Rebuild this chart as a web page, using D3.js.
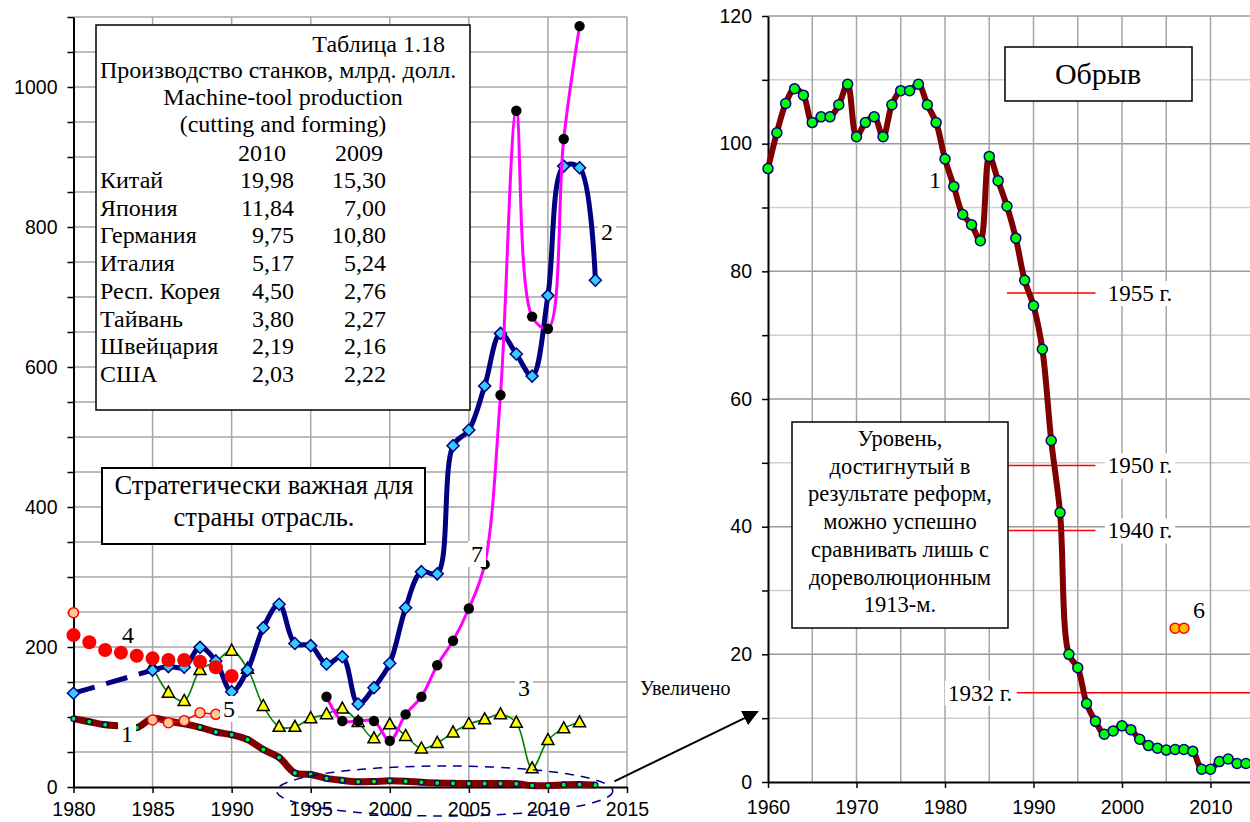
<!DOCTYPE html>
<html>
<head>
<meta charset="utf-8">
<script src="https://cdn.jsdelivr.net/npm/d3@7"></script>
<style>
  body { margin: 0; background: #fff; }
  svg { display: block; }
</style>
</head>
<body>
<div id="chart"></div>
<script>
// ---------- data ----------
// series 1 (index, used in both panels)
var s1Years = d3.range(1960, 2015);
var s1Values = [96.1, 101.7, 106.3, 108.6, 107.6, 103.3, 104.2, 104.2, 106.1, 109.3,
                101.1, 103.3, 104.2, 101.1, 106.1, 108.3, 108.3, 109.3, 106.1, 103.3,
                97.6, 93.3, 88.9, 87.3, 84.8, 98.0, 94.2, 90.2, 85.2, 78.6,
                74.6, 67.8, 53.5, 42.2, 20.0, 17.9, 12.3, 9.5, 7.5, 8.0,
                8.8, 8.2, 6.7, 5.7, 5.3, 5.0, 5.1, 5.1, 4.8, 2.0,
                2.0, 3.2, 3.6, 2.9, 2.9];
// series 2
var s2Years = [1980].concat(d3.range(1985, 2014));
var s2Values = [134, 167, 172, 171, 199.5, 180, 136, 167, 227.6, 261, 205, 202, 175.7, 186,
                118.6, 141.9, 176.7, 256, 307.6, 304.5, 487.6, 510, 573, 648, 618.6, 587,
                702, 887, 884.7, 724];
// series 3
var s3Years = d3.range(1985, 2013);
var s3Values = [172, 134.8, 122.9, 167, 179, 194.8, 169, 115.7, 86, 86, 98.3, 104, 112, 93,
                69.5, 89.5, 72.9, 55, 63, 78, 90, 96.7, 103.8, 91.9, 26.7, 67, 83.8, 92.4];
// series 4
var s4Years = d3.range(1980, 1991);
var s4Values = [217, 206.7, 195.7, 191.9, 187.6, 183.8, 181.4, 181.4, 179, 171, 158.6];
// series 5
var s5Years = [1980, 1985, 1986, 1987, 1988, 1989];
var s5Values = [249, 95.7, 91.9, 94.8, 106, 103.8];
// series 7
var s7Years = d3.range(1996, 2013);
var s7Values = [129, 94.3, 94.3, 94.3, 66, 103.8, 129, 174, 209, 255, 318, 560, 966, 672,
                654.7, 925.7, 1087];
// series 6 (right panel)
var s6Years = [2006, 2007];
var s6Values = [24.1, 24.1];

// reference levels (right panel)
var levelLabels = ["1955 г.", "1950 г.", "1940 г.", "1932 г."];
var levelValues = [76.6, 49.6, 39.4, 14.0];

// table 1.18
var tableCountries = ["Китай", "Япония", "Германия", "Италия", "Респ. Корея", "Тайвань", "Швейцария", "США"];
var table2010 = ["19,98", "11,84", "9,75", "5,17", "4,50", "3,80", "2,19", "2,03"];
var table2009 = ["15,30", "7,00", "10,80", "5,24", "2,76", "2,27", "2,16", "2,22"];

// ticks
var leftXTicks = [1980, 1985, 1990, 1995, 2000, 2005, 2010, 2015];
var leftYTicks = [0, 200, 400, 600, 800, 1000];
var rightXTicks = [1960, 1970, 1980, 1990, 2000, 2010];
var rightYTicks = [0, 20, 40, 60, 80, 100, 120];

// ---------- setup ----------
var serif = "'Liberation Serif', 'Times New Roman', serif";
var sans = "'Liberation Sans', Arial, sans-serif";

var svg = d3.select("#chart")
  .append("svg")
    .attr("width", 1250)
    .attr("height", 822);

svg.append("defs").append("marker")
    .attr("id", "arrowhead")
    .attr("viewBox", "0 0 10 10")
    .attr("refX", 9)
    .attr("refY", 5)
    .attr("markerWidth", 8)
    .attr("markerHeight", 8)
    .attr("markerUnits", "strokeWidth")
    .attr("orient", "auto")
  .append("path")
    .attr("d", "M 0 0 L 10 5 L 0 10 z")
    .attr("fill", "#000");

var smooth = d3.curveCatmullRom.alpha(0.5);
var diamond = "M0,-6L6,0L0,6L-6,0Z";
var triangle = "M0,-6.5L6,4.5L-6,4.5Z";

function pairs(xs, ys) {
  return xs.map(function(d, i) { return [d, ys[i]]; });
}

// text with optional white background, anchor set before measuring
function label(g, x, y, txt, size, bg, anchor) {
  var t = g.append("text")
    .attr("x", x).attr("y", y)
    .attr("font-family", serif)
    .attr("font-size", size)
    .attr("text-anchor", anchor || "start")
    .text(txt);
  if (bg) {
    var b = t.node().getBBox();
    g.insert("rect", function() { return t.node(); })
      .attr("x", b.x - 3).attr("y", b.y)
      .attr("width", b.width + 6).attr("height", b.height)
      .attr("fill", "#fff");
  }
  return t;
}

// ================= LEFT PANEL =================
var xL = d3.scaleLinear().domain([1980, 2015]).range([73.5, 627]);
var yL = d3.scaleLinear().domain([0, 1100]).range([787, 17]);

var left = svg.append("g");

// grid
left.selectAll(".hgrid")
  .data(d3.range(50, 1101, 50))
  .enter().append("line")
    .attr("x1", xL(1980)).attr("x2", xL(2015))
    .attr("y1", function(d) { return yL(d); })
    .attr("y2", function(d) { return yL(d); })
    .attr("stroke", "#a6a6a6").attr("stroke-width", 1.5);
left.selectAll(".vgrid")
  .data(d3.range(1985, 2016, 5))
  .enter().append("line")
    .attr("x1", function(d) { return xL(d); })
    .attr("x2", function(d) { return xL(d); })
    .attr("y1", yL(0)).attr("y2", yL(1100))
    .attr("stroke", "#a6a6a6").attr("stroke-width", 1.5);

// axes
var axL = left.append("g")
  .attr("transform", "translate(" + xL(1980) + ",0)")
  .call(d3.axisLeft(yL).tickValues(d3.range(0, 1101, 50))
    .tickFormat(function(d) { return leftYTicks.indexOf(d) >= 0 ? d : ""; })
    .tickSize(6).tickSizeOuter(0).tickPadding(10));
var axB = left.append("g")
  .attr("transform", "translate(0," + yL(0) + ")")
  .call(d3.axisBottom(xL).tickValues(leftXTicks).tickFormat(d3.format("d"))
    .tickSize(6).tickSizeOuter(0).tickPadding(9));
[axL, axB].forEach(function(a) {
  a.select(".domain").attr("stroke", "#000").attr("stroke-width", 2);
  a.selectAll(".tick line").attr("stroke", "#000").attr("stroke-width", 1.5);
  a.selectAll("text").attr("font-family", sans).attr("font-size", 19.5).attr("fill", "#000");
});

// series 3 (green / yellow triangles)
left.append("path")
  .datum(pairs(s3Years, s3Values))
  .attr("fill", "none").attr("stroke", "#008000").attr("stroke-width", 1.6)
  .attr("d", d3.line().curve(smooth).x(function(d) { return xL(d[0]); }).y(function(d) { return yL(d[1]); }));
left.selectAll(".tri")
  .data(pairs(s3Years, s3Values))
  .enter().append("path")
    .attr("d", triangle)
    .attr("transform", function(d) { return "translate(" + xL(d[0]) + "," + yL(d[1]) + ")"; })
    .attr("fill", "#ffff00").attr("stroke", "#000").attr("stroke-width", 1.5);

// series 1 (left part)
var s1Left = pairs(s1Years, s1Values).filter(function(d) { return d[0] >= 1980 && d[0] <= 2013; });
left.append("path")
  .datum(s1Left)
  .attr("fill", "none").attr("stroke", "#800000").attr("stroke-width", 7)
  .attr("d", d3.line().curve(smooth).x(function(d) { return xL(d[0]); }).y(function(d) { return yL(d[1]); }));
left.selectAll(".s1dot")
  .data(s1Left)
  .enter().append("circle")
    .attr("cx", function(d) { return xL(d[0]); })
    .attr("cy", function(d) { return yL(d[1]); })
    .attr("r", 2.6)
    .attr("fill", "#00ff00").attr("stroke", "#000080").attr("stroke-width", 1.2);

// series 2 (navy / cyan diamonds), gap 1980-1985 dashed
var s2 = pairs(s2Years, s2Values);
left.append("path")
  .datum(s2.slice(0, 2))
  .attr("fill", "none").attr("stroke", "#000080").attr("stroke-width", 5)
  .attr("stroke-dasharray", "22,12")
  .attr("d", d3.line().x(function(d) { return xL(d[0]); }).y(function(d) { return yL(d[1]); }));
left.append("path")
  .datum(s2.slice(1))
  .attr("fill", "none").attr("stroke", "#000080").attr("stroke-width", 5)
  .attr("d", d3.line().curve(smooth).x(function(d) { return xL(d[0]); }).y(function(d) { return yL(d[1]); }));
left.selectAll(".dia")
  .data(s2)
  .enter().append("path")
    .attr("d", diamond)
    .attr("transform", function(d) { return "translate(" + xL(d[0]) + "," + yL(d[1]) + ")"; })
    .attr("fill", "#33ccff").attr("stroke", "#000080").attr("stroke-width", 1.5);

// series 7 (magenta / black dots)
left.append("path")
  .datum(pairs(s7Years, s7Values))
  .attr("fill", "none").attr("stroke", "#ff00ff").attr("stroke-width", 3)
  .attr("d", d3.line().curve(smooth).x(function(d) { return xL(d[0]); }).y(function(d) { return yL(d[1]); }));
left.selectAll(".s7dot")
  .data(pairs(s7Years, s7Values))
  .enter().append("circle")
    .attr("cx", function(d) { return xL(d[0]); })
    .attr("cy", function(d) { return yL(d[1]); })
    .attr("r", 5.2)
    .attr("fill", "#000");

// series 4 (red big dots)
left.selectAll(".s4dot")
  .data(pairs(s4Years, s4Values))
  .enter().append("circle")
    .attr("cx", function(d) { return xL(d[0]); })
    .attr("cy", function(d) { return yL(d[1]); })
    .attr("r", 7)
    .attr("fill", "#ff0000");

// series 5 (peach dots)
var s5 = pairs(s5Years, s5Values);
left.append("path")
  .datum(s5.slice(1))
  .attr("fill", "none").attr("stroke", "#ff0000").attr("stroke-width", 1.5)
  .attr("d", d3.line().x(function(d) { return xL(d[0]); }).y(function(d) { return yL(d[1]); }));
left.selectAll(".s5dot")
  .data(s5)
  .enter().append("circle")
    .attr("cx", function(d) { return xL(d[0]); })
    .attr("cy", function(d) { return yL(d[1]); })
    .attr("r", 5)
    .attr("fill", "#ffcc99").attr("stroke", "#ff0000").attr("stroke-width", 1.5);

// dashed ellipse around the tail of series 1
left.append("ellipse")
  .attr("cx", (xL(1992.85) + xL(2014.1)) / 2)
  .attr("cy", yL(-5.7))
  .attr("rx", (xL(2014.1) - xL(1992.85)) / 2)
  .attr("ry", 25)
  .attr("fill", "none").attr("stroke", "#000080").attr("stroke-width", 1.5)
  .attr("stroke-dasharray", "9,7");

// series labels
label(left, 122, 643, "4", 24, false);
label(left, 121, 742, "1", 24, true);
label(left, 223, 717, "5", 24, true);
label(left, 471, 562, "7", 24, true);
label(left, 518, 696, "3", 24, true);
label(left, 601, 240, "2", 24, true);

// table box
left.append("rect")
  .attr("x", 96).attr("y", 25).attr("width", 374).attr("height", 385)
  .attr("fill", "#fff").attr("stroke", "#000").attr("stroke-width", 1.5);
label(left, 445, 52, "Таблица 1.18", 24, false, "end");
label(left, 100, 78, "Производство станков, млрд. долл.", 24);
label(left, 283, 105, "Machine-tool production", 24, false, "middle");
label(left, 283, 132, "(cutting and forming)", 24, false, "middle");
label(left, 262, 161, "2010", 24, false, "middle");
label(left, 359, 161, "2009", 24, false, "middle");
tableCountries.forEach(function(c, i) {
  var yy = 188 + i * 27.7;
  label(left, 100, yy, c, 24);
  label(left, 294, yy, table2010[i], 24, false, "end");
  label(left, 386, yy, table2009[i], 24, false, "end");
});

// strategic box
left.append("rect")
  .attr("x", 102).attr("y", 468).attr("width", 323).attr("height", 76)
  .attr("fill", "#fff").attr("stroke", "#000").attr("stroke-width", 2);
label(left, 264, 494, "Стратегически важная для", 26.5, false, "middle");
label(left, 264, 526, "страны отрасль.", 26.5, false, "middle");

// ================= RIGHT PANEL =================
var xR = d3.scaleLinear().domain([1960, 2015]).range([768, 1254.75]);
var yR = d3.scaleLinear().domain([0, 120]).range([782, 16]);

var right = svg.append("g");

right.selectAll(".hgrid")
  .data(d3.range(10, 121, 10))
  .enter().append("line")
    .attr("x1", xR(1960)).attr("x2", xR(2015))
    .attr("y1", function(d) { return yR(d); })
    .attr("y2", function(d) { return yR(d); })
    .attr("stroke", function(d) { return d % 20 === 0 ? "#999" : "#cfcfcf"; })
    .attr("stroke-width", 1.5);
right.selectAll(".vgrid")
  .data(d3.range(1965, 2016, 5))
  .enter().append("line")
    .attr("x1", function(d) { return xR(d); })
    .attr("x2", function(d) { return xR(d); })
    .attr("y1", yR(0)).attr("y2", yR(120))
    .attr("stroke", "#a6a6a6").attr("stroke-width", 1.5);

var axRL = right.append("g")
  .attr("transform", "translate(" + xR(1960) + ",0)")
  .call(d3.axisLeft(yR).tickValues(d3.range(0, 121, 10))
    .tickFormat(function(d) { return rightYTicks.indexOf(d) >= 0 ? d : ""; })
    .tickSize(6).tickSizeOuter(0).tickPadding(10));
var axRB = right.append("g")
  .attr("transform", "translate(0," + yR(0) + ")")
  .call(d3.axisBottom(xR).tickValues(rightXTicks).tickFormat(d3.format("d"))
    .tickSize(6).tickSizeOuter(0).tickPadding(12));
[axRL, axRB].forEach(function(a) {
  a.select(".domain").attr("stroke", "#000").attr("stroke-width", 2);
  a.selectAll(".tick line").attr("stroke", "#000").attr("stroke-width", 1.5);
  a.selectAll("text").attr("font-family", sans).attr("font-size", 19.5).attr("fill", "#000");
});

// reference levels
levelValues.forEach(function(v, i) {
  var x0 = i < 3 ? 1987 : 1988.1;
  var x1 = i < 3 ? 1997 : 2015;
  right.append("line")
    .attr("x1", xR(x0)).attr("x2", xR(x1))
    .attr("y1", yR(v)).attr("y2", yR(v))
    .attr("stroke", "#ff0000").attr("stroke-width", 1.5);
  if (i < 3) {
    label(right, xR(1998.4), yR(v) + 8, levelLabels[i], 23, true);
  } else {
    label(right, xR(1987.6), yR(v) + 8, levelLabels[i], 23, true, "end");
  }
});

// series 1
var s1 = pairs(s1Years, s1Values);
right.append("path")
  .datum(s1)
  .attr("fill", "none").attr("stroke", "#800000").attr("stroke-width", 6)
  .attr("d", d3.line().curve(smooth).x(function(d) { return xR(d[0]); }).y(function(d) { return yR(d[1]); }));
right.selectAll(".s1dot")
  .data(s1)
  .enter().append("circle")
    .attr("cx", function(d) { return xR(d[0]); })
    .attr("cy", function(d) { return yR(d[1]); })
    .attr("r", 5)
    .attr("fill", "#00ff00").attr("stroke", "#000080").attr("stroke-width", 1.5);

// series 6
right.selectAll(".s6dot")
  .data(pairs(s6Years, s6Values))
  .enter().append("circle")
    .attr("cx", function(d) { return xR(d[0]); })
    .attr("cy", function(d) { return yR(d[1]); })
    .attr("r", 5)
    .attr("fill", "#ffc000").attr("stroke", "#ff0000").attr("stroke-width", 1.5);

label(right, 929, 188, "1", 24, true);
label(right, 1193, 618, "6", 24, true);

// "Обрыв" box
right.append("rect")
  .attr("x", 1005).attr("y", 47).attr("width", 187).attr("height", 54)
  .attr("fill", "#fff").attr("stroke", "#000").attr("stroke-width", 1.5);
label(right, 1098, 84, "Обрыв", 30, false, "middle");

// comment box
var noteLines = ["Уровень,", "достигнутый в", "результате реформ,", "можно успешно",
                 "сравнивать лишь с", "дореволюционным", "1913-м."];
right.append("rect")
  .attr("x", 792).attr("y", 422).attr("width", 216).attr("height", 206)
  .attr("fill", "#fff").attr("stroke", "#000").attr("stroke-width", 1.5);
noteLines.forEach(function(t, i) {
  label(right, 900, 446 + i * 27.7, t, 22.5, false, "middle");
});

// ================= link between panels =================
label(svg, 640, 695, "Увеличено", 20);
svg.append("line")
  .attr("x1", xL(2014.2)).attr("y1", yL(8))
  .attr("x2", xR(1958.8)).attr("y2", yR(11))
  .attr("stroke", "#000").attr("stroke-width", 2)
  .attr("marker-end", "url(#arrowhead)");
</script>
</body>
</html>
